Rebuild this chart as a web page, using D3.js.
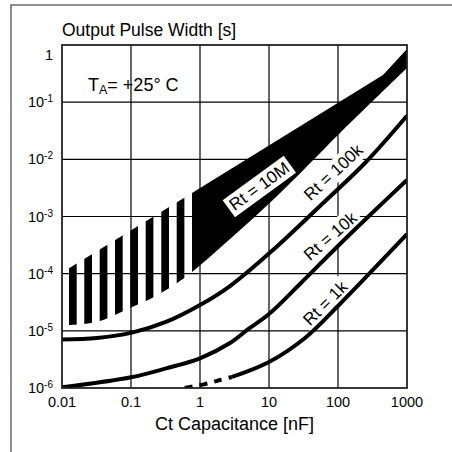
<!DOCTYPE html>
<html>
<head>
<meta charset="utf-8">
<script src="https://cdn.jsdelivr.net/npm/d3@7"></script>
<style>
  body { margin: 0; background: #fff; }
  text { font-family: "Liberation Sans", Arial, sans-serif; fill: #000; }
</style>
</head>
<body>
<svg id="chart" width="452" height="452"></svg>
<script>
// ticks
const xTicks = [0.01, 0.1, 1, 10, 100, 1000];
const xTickLabels = ['0.01', '0.1', '1', '10', '100', '1000'];
const yTicks = [1, 1e-1, 1e-2, 1e-3, 1e-4, 1e-5, 1e-6];
const yTickExps = ['', '-1', '-2', '-3', '-4', '-5', '-6'];

// Rt = 10M band: [capacitance nF, pulse width s]
const bandTop = [[0.01263, 1.24e-4], [0.766, 2.58e-3], [449, 0.299], [1000, 0.85]];
const bandBottom = [[0.01263, 1.27e-5], [0.0209, 1.32e-5], [0.0355, 1.49e-5], [0.0586, 1.89e-5],
  [0.0963, 2.51e-5], [0.165, 3.33e-5], [0.272, 4.59e-5], [0.465, 6.87e-5], [0.766, 1.07e-4],
  [12.2, 2.11e-3], [107, 0.0289], [1000, 0.396]];
// hatched (low capacitance) part of the band
const stripeStarts = [0.01263, 0.02104, 0.03519, 0.05864, 0.0977, 0.1633, 0.2749, 0.4594];
const solidStart = 0.766;

const rt100k = [[0.01, 7.06e-6], [0.0321, 7.5e-6], [0.1, 9.2e-6], [0.321, 1.43e-5], [1, 2.83e-5],
  [2.72, 6.08e-5], [11.4, 2.59e-4], [54.8, 1.53e-3], [246, 8.63e-3], [1000, 0.058]];
const rt10k = [[0.01, 1.03e-6], [0.1, 1.54e-6], [0.321, 2.2e-6], [1, 3.31e-6], [2.72, 6.12e-6],
  [5.1, 1.09e-5], [10, 1.97e-5], [28.1, 6.6e-5], [100, 3.05e-4], [291, 1.06e-3], [1000, 4.35e-3]];
const rt1kDashed = [[0.6, 1.0e-6], [1.18, 1.17e-6], [1.95, 1.38e-6], [2.91, 1.56e-6]];
const rt1k = [[2.91, 1.56e-6], [10, 2.85e-6], [33.3, 7.5e-6], [100, 2.72e-5],
  [291, 1.03e-4], [1000, 4.94e-4]];

const curveLabels = [
  { text: 'Rt = 10M', c: 7.16, t: 3.42e-3, angle: -36, boxed: true },
  { text: 'Rt = 100k', c: 84.7, t: 6.0e-3, angle: -43 },
  { text: 'Rt = 10k', c: 76.5, t: 4.56e-4, angle: -41 },
  { text: 'Rt = 1k', c: 64.8, t: 3.07e-5, angle: -45 }
];

const plotL = 62, plotR = 407, plotT = 45, plotB = 388;

const x = d3.scaleLog().domain([0.01, 1000]).range([plotL, plotR]);
const y = d3.scaleLog().domain([1e-6, 1]).range([plotB, plotT]);

const svg = d3.select('#chart');

// outer frame (runs off the picture at right and bottom)
svg.append('rect')
  .attr('x', 11).attr('y', 5)
  .attr('width', 480).attr('height', 480)
  .attr('fill', 'none')
  .attr('stroke', '#555')
  .attr('stroke-width', 1.3);

const defs = svg.append('defs');
defs.append('clipPath').attr('id', 'plot-clip')
  .append('rect')
  .attr('x', plotL).attr('y', plotT)
  .attr('width', plotR - plotL).attr('height', plotB - plotT);

// GRID
const grid = svg.append('g').attr('class', 'grid');
grid.selectAll('line.v')
  .data(xTicks.slice(1, -1))
  .enter().append('line')
  .attr('class', 'v')
  .attr('x1', d => x(d)).attr('x2', d => x(d))
  .attr('y1', plotT).attr('y2', plotB)
  .attr('stroke', '#000').attr('stroke-width', 1.2);
grid.selectAll('line.h')
  .data(yTicks.slice(1, -1))
  .enter().append('line')
  .attr('class', 'h')
  .attr('y1', d => y(d)).attr('y2', d => y(d))
  .attr('x1', plotL).attr('x2', plotR)
  .attr('stroke', '#000').attr('stroke-width', 1.2);

const labelLayer = svg.append('g');
const curveLayer = svg.append('g').attr('clip-path', 'url(#plot-clip)');
const topLayer = svg.append('g');

// BAND (Rt = 10M)
const clip = defs.append('clipPath').attr('id', 'band-clip');
stripeStarts.forEach(s => {
  clip.append('rect')
    .attr('x', x(s)).attr('y', plotT)
    .attr('width', x(s * 1.293) - x(s))
    .attr('height', plotB - plotT);
});
clip.append('rect')
  .attr('x', x(solidStart)).attr('y', plotT)
  .attr('width', plotR - x(solidStart) + 2)
  .attr('height', plotB - plotT);

const edgeTop = d3.line().x(d => x(d[0])).y(d => y(d[1]));
const edgeBottom = d3.line().x(d => x(d[0])).y(d => y(d[1])).curve(d3.curveCatmullRom);
const bandPath = edgeTop(bandTop) + 'L' + edgeBottom(bandBottom.slice().reverse()).slice(1) + 'Z';

curveLayer.append('g')
  .attr('clip-path', 'url(#band-clip)')
  .append('path')
  .attr('d', bandPath)
  .attr('fill', '#000');

// CURVES
const line = d3.line()
  .x(d => x(d[0]))
  .y(d => y(d[1]))
  .curve(d3.curveCatmullRom.alpha(0.5));

[rt100k, rt10k, rt1k].forEach(c => {
  curveLayer.append('path')
    .attr('d', line(c))
    .attr('fill', 'none')
    .attr('stroke', '#000')
    .attr('stroke-width', 4);
});
curveLayer.append('path')
  .attr('d', line(rt1kDashed))
  .attr('fill', 'none')
  .attr('stroke', '#000')
  .attr('stroke-width', 4)
  .attr('stroke-dasharray', '8,7');

// PLOT BORDER
svg.append('rect')
  .attr('x', plotL).attr('y', plotT)
  .attr('width', plotR - plotL).attr('height', plotB - plotT)
  .attr('fill', 'none')
  .attr('stroke', '#222')
  .attr('stroke-width', 1.8);

// CURVE LABELS (white box behind the text)
curveLabels.forEach(l => {
  const g = (l.boxed ? topLayer : labelLayer).append('g')
    .attr('transform', `translate(${x(l.c)},${y(l.t)}) rotate(${l.angle})`);
  const t = g.append('text')
    .attr('text-anchor', 'middle')
    .attr('dy', '0.36em')
    .style('font-size', '17px')
    .text(l.text);
  const bb = t.node().getBBox();
  g.insert('rect', 'text')
    .attr('x', bb.x - 3).attr('y', bb.y - 1)
    .attr('width', bb.width + 6).attr('height', bb.height + 2)
    .attr('fill', '#fff');
});

// AXIS LABELS
svg.append('g').selectAll('text')
  .data(xTicks)
  .enter().append('text')
  .attr('x', d => x(d))
  .attr('y', 407)
  .attr('text-anchor', 'middle')
  .style('font-size', '14.5px')
  .text((d, i) => xTickLabels[i]);

const yl = svg.append('g').selectAll('text')
  .data(yTicks)
  .enter().append('text')
  .attr('x', 53)
  .attr('y', (d, i) => i === 0 ? y(d) + 15 : y(d) + 5)
  .attr('text-anchor', 'end')
  .style('font-size', '14.5px');
yl.filter((d, i) => i === 0).text('1');
yl.filter((d, i) => i > 0).each(function (d, i) {
  const t = d3.select(this);
  t.append('tspan').text('10');
  t.append('tspan')
    .attr('dy', -5)
    .style('font-size', '10px')
    .text(yTickExps[i + 1]);
});

svg.append('text')
  .attr('x', plotL)
  .attr('y', 35.5)
  .style('font-size', '17.5px')
  .text('Output Pulse Width [s]');

svg.append('text')
  .attr('x', (plotL + plotR) / 2)
  .attr('y', 430)
  .attr('text-anchor', 'middle')
  .style('font-size', '18px')
  .text('Ct Capacitance [nF]');

const ta = svg.append('text')
  .attr('x', 88)
  .attr('y', 91)
  .style('font-size', '18px');
ta.append('tspan').text('T');
ta.append('tspan').attr('dy', 3).style('font-size', '12.5px').text('A');
ta.append('tspan').attr('dy', -3).text('= +25\u00b0 C');
</script>
</body>
</html>
